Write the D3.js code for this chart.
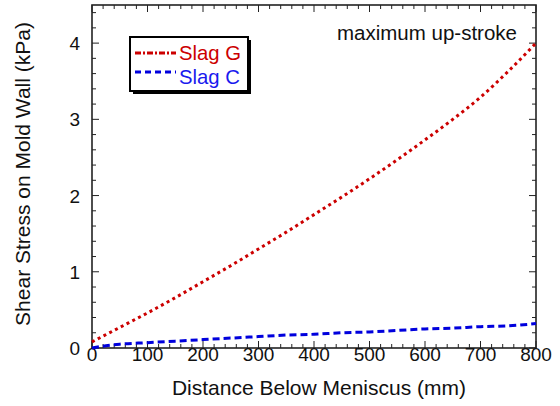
<!DOCTYPE html>
<html>
<head>
<meta charset="utf-8">
<script src="https://cdn.jsdelivr.net/npm/d3@7"></script>
<style>
  body { margin: 0; background: #fff; }
  svg { font-family: "Liberation Sans", Arial, sans-serif; }
</style>
</head>
<body>
<svg width="560" height="406"></svg>
<script>
// data
const slagG_x = [0, 50, 100, 150, 200, 250, 300, 350, 400, 450, 500, 550, 600, 650, 700, 750, 800];
const slagG_y = [0.08, 0.27, 0.46, 0.66, 0.87, 1.08, 1.30, 1.52, 1.75, 1.98, 2.22, 2.47, 2.73, 3.00, 3.29, 3.63, 4.00];
const slagC_x = [0, 25, 50, 100, 150, 200, 250, 300, 350, 400, 450, 500, 550, 600, 650, 700, 750, 800];
const slagC_y = [0.0, 0.03, 0.05, 0.07, 0.09, 0.11, 0.13, 0.15, 0.17, 0.18, 0.20, 0.21, 0.23, 0.25, 0.26, 0.28, 0.29, 0.32];
const xTicks = [0, 100, 200, 300, 400, 500, 600, 700, 800];
const yTicks = [0, 1, 2, 3, 4];

const svg = d3.select("svg");
const pLeft = 92, pRight = 536, pTop = 5, pBottom = 348;

const x = d3.scaleLinear().domain([0, 800]).range([pLeft, pRight]);
const y = d3.scaleLinear().domain([0, 4.5]).range([pBottom, pTop]);

const xMinor = d3.range(0, 801, 20).filter(v => v % 100 !== 0);
const yMinor = d3.range(0, 4.51, 0.2).map(v => +v.toFixed(1)).filter(v => Math.abs(v - Math.round(v)) > 1e-6);

// frame
svg.append("rect")
    .attr("x", pLeft).attr("y", pTop)
    .attr("width", pRight - pLeft).attr("height", pBottom - pTop)
    .attr("fill", "none").attr("stroke", "#222").attr("stroke-width", 1.6);

function ticks(g, vals, len, side) {
    vals.forEach(v => {
        if (side === "b") g.append("line").attr("x1", x(v)).attr("x2", x(v)).attr("y1", pBottom).attr("y2", pBottom - len);
        if (side === "t") g.append("line").attr("x1", x(v)).attr("x2", x(v)).attr("y1", pTop).attr("y2", pTop + len);
        if (side === "l") g.append("line").attr("y1", y(v)).attr("y2", y(v)).attr("x1", pLeft).attr("x2", pLeft + len);
        if (side === "r") g.append("line").attr("y1", y(v)).attr("y2", y(v)).attr("x1", pRight).attr("x2", pRight - len);
    });
}
const tg = svg.append("g").attr("stroke", "#222").attr("stroke-width", 1);
["b", "t"].forEach(s => { ticks(tg, xTicks, 7, s); ticks(tg, xMinor, 4, s); });
["l", "r"].forEach(s => { ticks(tg, yTicks, 7, s); ticks(tg, yMinor, 4, s); });

// tick labels
svg.append("g").selectAll("text").data(xTicks).join("text")
    .attr("x", d => x(d)).attr("y", 361)
    .attr("text-anchor", "middle").attr("font-size", 19).attr("fill", "#111")
    .text(d => d);
svg.append("g").selectAll("text").data(yTicks).join("text")
    .attr("x", 80).attr("y", d => y(d) + 7)
    .attr("text-anchor", "end").attr("font-size", 19).attr("fill", "#111")
    .text(d => d);

// axis titles
svg.append("text").attr("x", 319).attr("y", 395)
    .attr("text-anchor", "middle").attr("font-size", 21).attr("fill", "#111")
    .text("Distance Below Meniscus (mm)");
svg.append("text").attr("transform", "translate(30,174) rotate(-90)")
    .attr("text-anchor", "middle").attr("font-size", 21).attr("fill", "#111")
    .text("Shear Stress on Mold Wall (kPa)");

// curves
const line = d3.line().x(d => x(d[0])).y(d => y(d[1])).curve(d3.curveMonotoneX);
svg.append("path").datum(d3.zip(slagC_x, slagC_y))
    .attr("d", line).attr("fill", "none")
    .attr("stroke", "#0000dd").attr("stroke-width", 3).attr("stroke-dasharray", "7,4");
svg.append("path").datum(d3.zip(slagG_x, slagG_y))
    .attr("d", line).attr("fill", "none")
    .attr("stroke", "#cc0000").attr("stroke-width", 3).attr("stroke-dasharray", "3,3.5");

// annotation
svg.append("text").attr("x", 337).attr("y", 40)
    .attr("font-size", 20.5).attr("fill", "#111")
    .text("maximum up-stroke");

// legend
const lg = svg.append("g");
lg.append("rect").attr("x", 133).attr("y", 40).attr("width", 118).attr("height", 54).attr("fill", "#000");
lg.append("rect").attr("x", 130).attr("y", 37).attr("width", 118).attr("height", 54)
    .attr("fill", "#fff").attr("stroke", "#000").attr("stroke-width", 2);
lg.append("line").attr("x1", 135).attr("x2", 176).attr("y1", 53).attr("y2", 53)
    .attr("stroke", "#cc0000").attr("stroke-width", 3).attr("stroke-dasharray", "6,2,2,2");
lg.append("line").attr("x1", 135).attr("x2", 176).attr("y1", 72).attr("y2", 72)
    .attr("stroke", "#0000dd").attr("stroke-width", 3).attr("stroke-dasharray", "6,4");
lg.append("text").attr("x", 179).attr("y", 60).attr("font-size", 20.3).attr("fill", "#cc0000").text("Slag G");
lg.append("text").attr("x", 179).attr("y", 84).attr("font-size", 20.3).attr("fill", "#1a1aee").text("Slag C");
</script>
</body>
</html>
